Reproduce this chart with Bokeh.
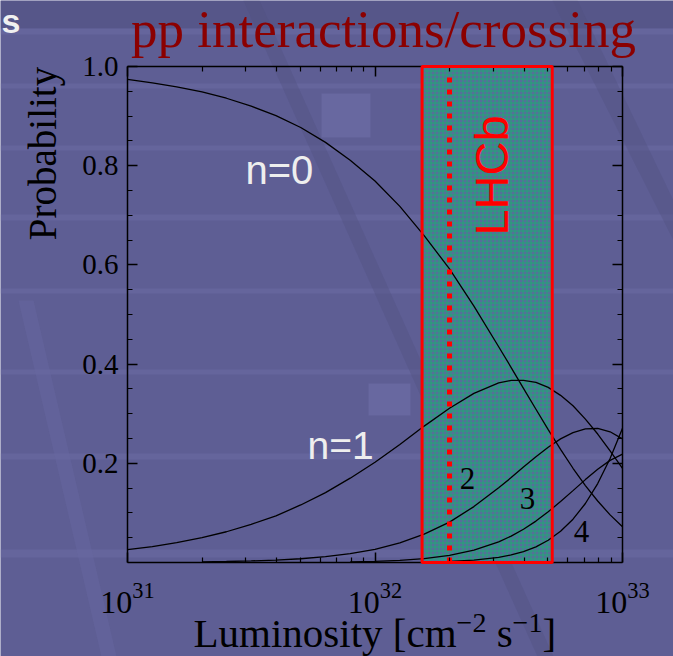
import math

from bokeh.plotting import figure
from bokeh.models import (Range1d, LinearAxis, LogAxis, FixedTicker, Label,
                          LogTickFormatter, NumeralTickFormatter,
                          BoxAnnotation, PolyAnnotation)
from bokeh.embed import file_html
from bokeh.resources import INLINE

# Luminosity sample points [cm^-2 s^-1]
lumi = [1.00e31, 1.26e31, 1.58e31, 2.00e31, 2.51e31, 3.16e31, 3.98e31, 5.01e31,
        6.31e31, 7.94e31, 1.00e32, 1.26e32, 1.58e32, 2.00e32, 2.51e32, 3.16e32,
        3.55e32, 3.98e32, 4.47e32, 5.01e32, 5.62e32, 6.31e32, 7.08e32, 7.94e32,
        8.91e32, 1.00e33]

# Probability of n pp interactions per bunch crossing
prob_n0 = [0.974, 0.967, 0.959, 0.949, 0.936, 0.920, 0.901, 0.877, 0.847, 0.811,
           0.769, 0.718, 0.659, 0.592, 0.517, 0.435, 0.393, 0.351, 0.309, 0.268,
           0.228, 0.190, 0.155, 0.124, 0.096, 0.072]
prob_n1 = [0.026, 0.032, 0.040, 0.050, 0.062, 0.077, 0.094, 0.116, 0.141, 0.170,
           0.202, 0.238, 0.275, 0.311, 0.341, 0.362, 0.367, 0.367, 0.363, 0.353,
           0.337, 0.316, 0.289, 0.259, 0.225, 0.190]
# n=2 from lumi[3], n=3 from lumi[9], n>=4 from lumi[13]
prob_n2 = [0.0013, 0.0020, 0.0032, 0.0049, 0.0076, 0.0117, 0.0177, 0.0266,
           0.0394, 0.0573, 0.0815, 0.1127, 0.1506, 0.1712, 0.1924, 0.2132,
           0.2325, 0.2492, 0.2619, 0.2693, 0.2702, 0.2636, 0.2493]
prob_n3 = [0.0012, 0.0023, 0.0043, 0.0080, 0.0143, 0.0248, 0.0417, 0.0533,
           0.0671, 0.0835, 0.1022, 0.1229, 0.1449, 0.1671, 0.1881, 0.2059, 0.2185]
prob_n4 = [0.0021, 0.0047, 0.0104, 0.0152, 0.0220, 0.0316, 0.0449, 0.0630,
           0.0873, 0.1189, 0.1592, 0.2097, 0.2705]

# LHCb operating luminosity window and nominal value
lhcb_low, lhcb_high = 1.55e32, 5.2e32
lhcb_nominal = 2.0e32

x_lo, x_hi = 1e31, 1e33
y_lo, y_hi = 0.0, 1.0
x_major = [1e31, 1e32, 1e33]
y_major = [0.2, 0.4, 0.6, 0.8, 1.0]

BG = "#5E5E94"
SERIF = "Liberation Serif"
SANS = "Liberation Sans"

# Canvas and the axis box inside it (pixels); the frame spans the whole
# canvas so that the titles around the box can be placed freely.
W, H = 673, 656
BOX_L, BOX_R, BOX_T, BOX_B = 127, 622, 66, 562
DEC = (BOX_R - BOX_L) / 2.0            # pixels per decade
YPX = (BOX_B - BOX_T) / (y_hi - y_lo)  # pixels per unit probability


def xpix(px):
    return 10 ** (math.log10(x_lo) + (px - BOX_L) / DEC)


def ypix(py):
    return y_lo + (BOX_B - py) / YPX


p = figure(width=W, height=H, x_axis_type="log",
           x_range=Range1d(xpix(0), xpix(W)), y_range=Range1d(ypix(H), ypix(0)),
           x_axis_location=None, y_axis_location=None,
           output_backend="svg", toolbar_location=None, title=None,
           min_border=0, min_border_left=0, min_border_right=0,
           min_border_top=0, min_border_bottom=0,
           background_fill_color=BG, border_fill_color=BG,
           outline_line_color=None)
p.xgrid.visible = False
p.ygrid.visible = False

# --- slide backdrop: darker header strip, faint light rules, two tiles and
# diagonal streaks (screen units count from the canvas' bottom-left corner) ---


def screen_box(l, t, r, b, color, alpha):
    p.add_layout(BoxAnnotation(left=l, right=r, top=H - t, bottom=H - b,
                               left_units="screen", right_units="screen",
                               top_units="screen", bottom_units="screen",
                               fill_color=color, fill_alpha=alpha,
                               line_alpha=0, level="underlay"))


screen_box(0, 0, W, 28, "#4E4E7C", 0.45)
rules = [(28, 34), (83, 88), (145, 150), (214, 220), (288, 293),
         (369, 374), (453, 459), (549, 557)]
for top, bottom in rules:
    screen_box(0, top, W, bottom, "#7474AC", 0.35)
for l, t, r, b in [(321, 93, 370, 137), (368, 383, 410, 415)]:
    screen_box(l, t, r, b, "#6C6CA4", 0.75)

streaks = [([243, 259, 553, 537], "#50507E", 0.35),
           ([552, 577, 673, 673], "#50507E", 0.35),
           ([18, 33, 116, 101], "#6A6AA2", 0.4)]
streak_rows = [[0, 0, H, H], [0, 0, 200, 240], [300, 300, H, H]]
for (xs, color, alpha), ys in zip(streaks, streak_rows):
    p.add_layout(PolyAnnotation(xs=xs, ys=[H - y for y in ys],
                                xs_units="screen", ys_units="screen",
                                fill_color=color, fill_alpha=alpha,
                                line_alpha=0, level="underlay"))

x_minor = [m * d for d in (1e31, 1e32) for m in range(2, 10)]
y_minor = [round(0.05 * i, 2) for i in range(1, 20)]


def style_axis(ax, labels=True):
    ax.major_tick_in = 10
    ax.major_tick_out = 0
    ax.minor_tick_in = 5
    ax.minor_tick_out = 0
    ax.axis_line_width = 1.5
    ax.major_tick_line_width = 1.5
    ax.minor_tick_line_width = 1.2
    ax.axis_line_color = "black"
    ax.major_tick_line_color = "black"
    ax.minor_tick_line_color = "black"
    ax.major_label_text_font = SERIF
    ax.major_label_text_color = "black"
    if not labels:
        ax.major_label_text_font_size = "1px"
        ax.major_label_text_alpha = 0.0


x_ticker = FixedTicker(ticks=x_major, minor_ticks=x_minor)
y_ticker = FixedTicker(ticks=y_major, minor_ticks=y_minor)

xb = LogAxis(ticker=x_ticker, formatter=LogTickFormatter(),
             bounds=(x_lo, x_hi), fixed_location=y_lo)
style_axis(xb)
xb.major_label_text_font_size = "32px"
xb.major_label_standoff = 20
p.add_layout(xb, "below")

xt = LogAxis(ticker=x_ticker, bounds=(x_lo, x_hi), fixed_location=y_hi)
style_axis(xt, labels=False)
p.add_layout(xt, "above")

yl = LinearAxis(ticker=y_ticker, formatter=NumeralTickFormatter(format="0.0"),
                bounds=(y_lo, y_hi), fixed_location=x_lo)
style_axis(yl)
yl.major_label_text_font_size = "29px"
yl.major_label_standoff = 9
p.add_layout(yl, "left")

yr = LinearAxis(ticker=y_ticker, bounds=(y_lo, y_hi), fixed_location=x_hi)
style_axis(yr, labels=False)
p.add_layout(yr, "right")

# LHCb luminosity window: hatched fill below the curves
p.quad(left=[lhcb_low], right=[lhcb_high], bottom=[y_lo], top=[y_hi],
       fill_color="#55709A", hatch_pattern="+", hatch_color="#22A575",
       hatch_scale=4, hatch_weight=1, line_alpha=0)

curves = [(lumi, prob_n0), (lumi, prob_n1), (lumi[3:], prob_n2),
          (lumi[9:], prob_n3), (lumi[13:], prob_n4)]
for xs, ys in curves:
    p.line(xs, ys, line_color="black", line_width=1.3)

p.quad(left=[lhcb_low], right=[lhcb_high], bottom=[y_lo], top=[y_hi],
       fill_alpha=0, line_color="#FF0000", line_width=3, level="overlay")
p.line([lhcb_nominal, lhcb_nominal], [y_lo, 0.985], line_color="#FF0000",
       line_width=5, line_dash="5 7")

BASE_SHIFT = 0.33  # baseline drop of Label text, in em


def label(px, py, text, size, font=SERIF, color="black", align="left",
          angle=0.0, style="normal"):
    """Place text with its baseline at canvas pixel (px, py)."""
    shift = BASE_SHIFT * size
    if angle:
        px -= shift
    else:
        py -= shift
    p.add_layout(Label(x=xpix(px), y=ypix(py), text=text, text_font=font,
                       text_font_size=f"{size}px", text_color=color,
                       text_align=align, text_baseline="alphabetic",
                       angle=angle, text_font_style=style))


label(245, 183, "n=0", 40, font=SANS, color="#EEEEEE")
label(307, 458, "n=1", 39, font=SANS, color="#EEEEEE")
label(467, 488, "2", 31, align="center")
label(527, 508, "3", 31, align="center")
label(581, 541, "4", 31, align="center")
label(507, 175, "LHCb", 47, font=SANS, color="#FF0000", align="center",
      angle=math.pi / 2)

label(383, 46, "pp interactions/crossing", 53, color="#8B0000",
      align="center")
label(55, 153, "Probability", 39, align="center", angle=math.pi / 2)

# x-axis title with raised exponents (Times-metric advance widths, em)
MAIN, SUP = 41, 28
x0 = 193.0
label(x0, 646, "Luminosity [cm", MAIN)
x0 += 6.417 * MAIN
label(x0, 632, "\u22122", SUP)
x0 += 1.064 * SUP + 0.25 * MAIN
label(x0, 646, "s", MAIN)
x0 += 0.389 * MAIN
label(x0, 632, "\u22121", SUP)
x0 += 1.064 * SUP
label(x0, 646, "]", MAIN)

label(1, 32, "s", 34, font=SANS, color="#F0F0F0", style="bold")

open("out.html", "w").write(file_html(p, INLINE))
